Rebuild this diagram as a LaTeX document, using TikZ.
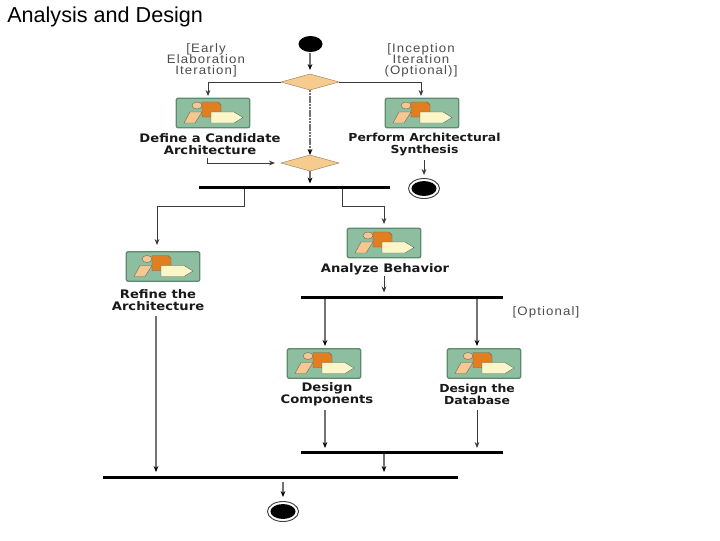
\documentclass[tikz,border=0pt]{standalone}
\usepackage{fontspec}
\setmainfont{Liberation Sans}
\newfontfamily\lblfont{DejaVu Sans}[FakeStretch=1.12]
\newfontfamily\grdfont{Liberation Sans}[LetterSpace=9,FakeStretch=1.08]
\usetikzlibrary{arrows.meta,shapes.geometric,calc}
\normallineskiplimit=-6pt
\definecolor{icongreen}{HTML}{8DBE9F}
\definecolor{iconedge}{HTML}{5F8A70}
\definecolor{iconorange}{HTML}{E07F1F}
\definecolor{iconpeach}{HTML}{F6C78F}
\definecolor{iconcream}{HTML}{FAF6C8}
\definecolor{diafill}{HTML}{F6CB90}
\definecolor{lineink}{HTML}{3A3A3A}
\tikzset{
  iconbox/.style={draw=iconedge,fill=icongreen,line width=1pt,rounded corners=1.5pt,minimum width=73.5*0.75pt,minimum height=29.5*0.75pt,inner sep=0pt,outer sep=0pt},
  decision/.style={diamond,aspect=3.6,draw=iconpeach!70!black,fill=diafill,line width=0.4pt,minimum width=58*0.75pt,minimum height=16*0.75pt,inner sep=0pt,outer sep=0pt},
  syncbar/.style={fill=black,inner sep=0pt,outer sep=0pt,minimum height=3*0.75pt},
  startdot/.style={ellipse,fill=black,minimum width=24*0.75pt,minimum height=16*0.75pt,inner sep=0pt,outer sep=0pt},
  enddot/.style={ellipse,draw=black!75,line width=0.7pt,fill=white,minimum width=31*0.75pt,minimum height=20*0.75pt,inner sep=0pt,outer sep=0pt,
    path picture={\fill[black] (path picture bounding box.center) ellipse [x radius=9.4pt,y radius=5.6pt];}},
  actlabel/.style={font=\lblfont\bfseries\fontsize{8.8}{8.7}\selectfont,align=center,inner sep=0pt,text=black!90,execute at begin node={\lineskiplimit=-6pt\relax}},
  narrowlabel/.style={font=\lblfont\bfseries\fontsize{8.3}{8.7}\selectfont,align=center,inner sep=0pt,text=black!90,execute at begin node={\lineskiplimit=-6pt\relax}},
  guardlabel/.style={font=\grdfont\fontsize{9.2}{8.3}\selectfont,align=center,inner sep=0pt,text=black!70,execute at begin node={\lineskiplimit=-6pt\relax}},
  flow/.style={draw=lineink,line width=0.7pt,-{Stealth[length=4.5pt,width=3.6pt]}},
  flowgrey/.style={draw=black!55,line width=1.2pt,-{Stealth[length=4.5pt,width=3.6pt,black]}},
}
\newcommand{\actglyph}[1]{%
  \begin{scope}[shift={(#1)}]
    \fill[iconpeach,draw=black!60,line width=0.3pt] (-16,-7.5) circle[x radius=5,y radius=3.5];
    \fill[iconpeach,draw=black!60,line width=0.3pt] (-29,10) -- (-23,-1) -- (-11,-1) -- (-18,10) -- cycle;
    \fill[iconorange,draw=black!60,line width=0.3pt] (-11,-11) -- (5,-11) -- (8,-8) -- (8,4) -- (-11,4) -- cycle;
    \fill[iconcream,draw=black!60,line width=0.3pt] (-2,-1) -- (21,-1) -- (30,4.5) -- (21,10) -- (-2,10) -- cycle;
  \end{scope}}
\begin{document}
\begin{tikzpicture}[x=0.75pt,y=-0.75pt]
\useasboundingbox (0,0) rectangle (720,540);
\node[anchor=west,inner sep=0pt,font=\fontsize{16.2}{18}\selectfont] (title) at (7,17) {Analysis and Design};

\node[startdot] (start) at (310.5,44) {};
\node[decision] (d1) at (310,82) {};
\node[decision] (d2) at (310,163) {};
\node[syncbar,minimum width=191*0.75pt] (bar1) at (294.5,187.5) {};
\node[syncbar,minimum width=202*0.75pt] (bar2) at (402,297.5) {};
\node[syncbar,minimum width=202*0.75pt] (bar3) at (402,452) {};
\node[syncbar,minimum width=355*0.75pt] (bar4) at (280.5,477) {};
\node[enddot] (end1) at (424,188.5) {};
\node[enddot] (end2) at (283,511.5) {};

\node[iconbox] (defi) at (213,113) {};
\node[iconbox] (perf) at (422,113) {};
\node[iconbox] (anal) at (384,243) {};
\node[iconbox] (refi) at (163,266.5) {};
\node[iconbox] (dcom) at (324,363.5) {};
\node[iconbox] (ddb) at (484,363.5) {};
\actglyph{defi}\actglyph{perf}\actglyph{anal}\actglyph{refi}\actglyph{dcom}\actglyph{ddb}

\node[actlabel] (tdefi) at (210,144) {Define a Candidate\\Architecture};
\node[narrowlabel] (tperf) at (424.5,144.5) {Perform Architectural\\Synthesis};
\node[actlabel] (tanal) at (385,269) {Analyze Behavior};
\node[actlabel] (trefi) at (158,300) {Refine the\\Architecture};
\node[actlabel] (tdcom) at (327,394.5) {Design\\Components};
\node[narrowlabel] (tddb) at (477,394.5) {Design the\\Database};

\node[guardlabel] (g1) at (206,60) {[Early\\Elaboration\\Iteration]};
\node[guardlabel] (g2) at (421,60) {[Inception\\Iteration\\(Optional)]};
\node[guardlabel] (g3) at (546,312) {[Optional]};

% free ends on bars and labels
\coordinate (s1) at (310,53);
\coordinate (s2) at (310,70);
\coordinate (bd) at (310,183.5);
\coordinate (c1) at (244,189);
\coordinate (c2) at (342,189);
\coordinate (k1) at (244,206);
\coordinate (k2) at (342,206);
\coordinate (e1) at (157,245);
\coordinate (e2) at (384,224);
\coordinate (h1) at (208,96);
\coordinate (h2) at (421,96);
\coordinate (f1) at (207,158);
\coordinate (f2) at (275,163);
\coordinate (p1) at (325,299);
\coordinate (p2) at (477,299);
\coordinate (p5) at (325,346);
\coordinate (p6) at (477,346);
\coordinate (p3) at (325,448);
\coordinate (p4) at (477,448);
\coordinate (q1) at (325,410);
\coordinate (q2) at (477,410);
\coordinate (r1) at (384,454);
\coordinate (r2) at (384,472);
\coordinate (u1) at (156,316);
\coordinate (u2) at (156,472);
\coordinate (v1) at (283,482);
\coordinate (v2) at (283,497);
\coordinate (w1) at (424,160);
\coordinate (w2) at (424,175);
\coordinate (x1) at (384,276);
\coordinate (x2) at (384,292.5);

\draw[flowgrey] (s1) -- (s2);
\draw[flow] (d1.west) -| (h1);
\draw[flow] (d1.east) -| (h2);
\draw[flowgrey,dash pattern=on 1.6pt off 0.5pt] (d1.south) -- (d2.north);
\draw[flow] (f1) |- (f2);
\draw[flowgrey] (d2.south) -- (bd);
\draw[flow] (w1) -- (w2);
\draw[flow] (c1) -- (k1) -| (e1);
\draw[flow] (c2) -- (k2) -| (e2);
\draw[flow] (x1) -- (x2);
\draw[flowgrey] (p1) -- (p5);
\draw[flowgrey] (p2) -- (p6);
\draw[flowgrey] (q1) -- (p3);
\draw[flow] (q2) -- (p4);
\draw[flowgrey] (r1) -- (r2);
\draw[flowgrey] (u1) -- (u2);
\draw[flowgrey] (v1) -- (v2);
\end{tikzpicture}
\end{document}
